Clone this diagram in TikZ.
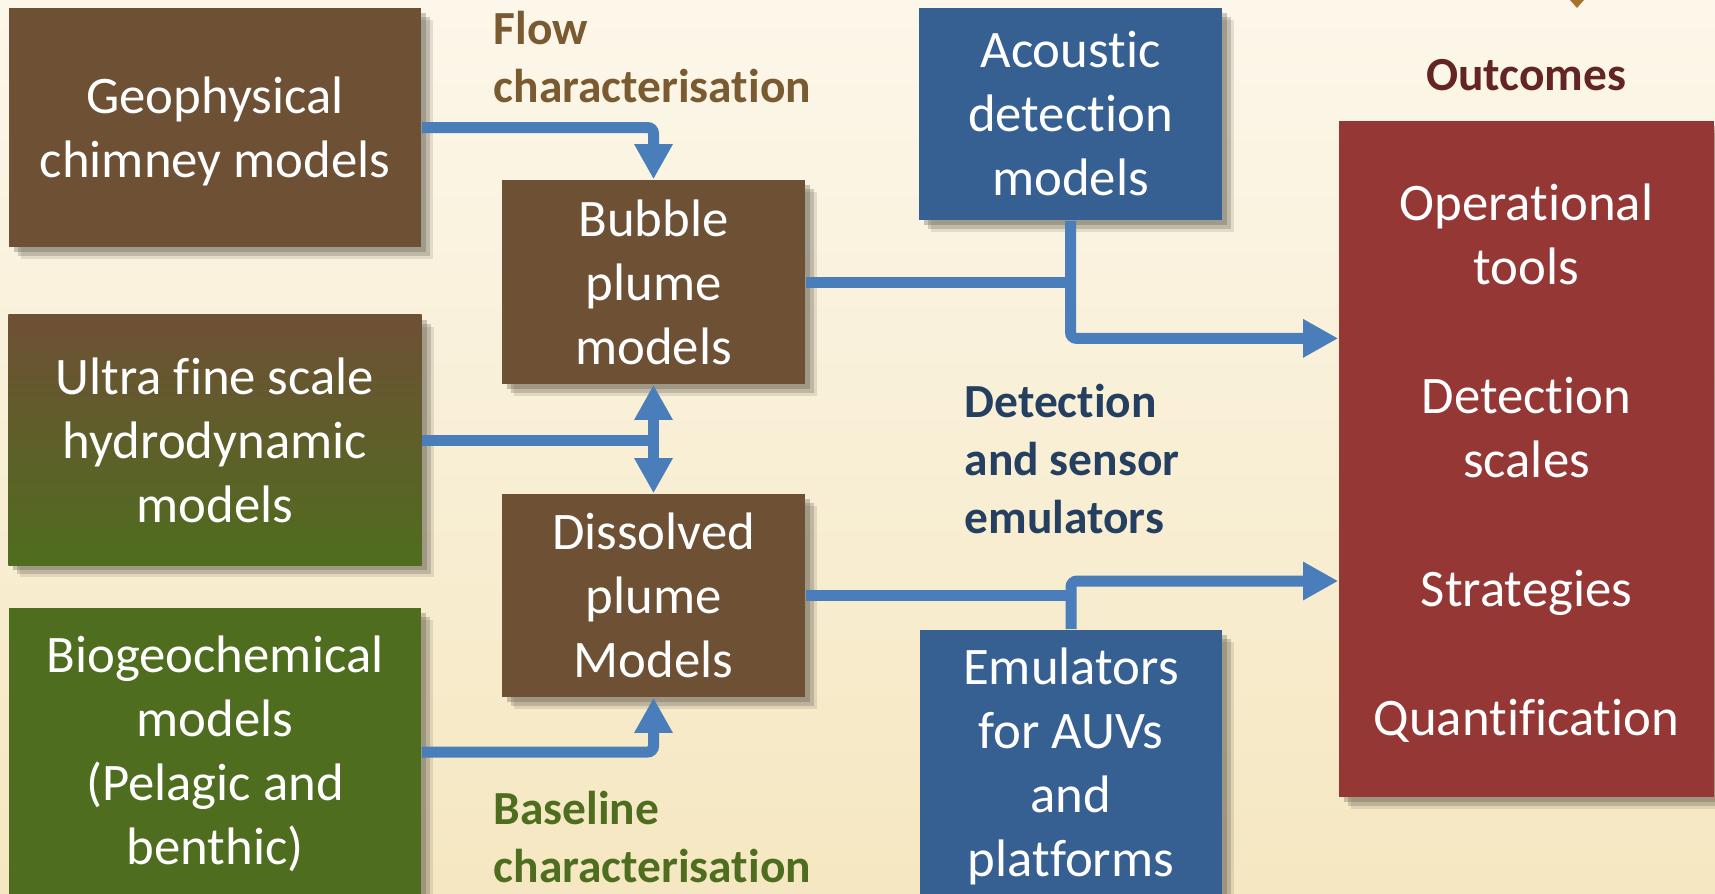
\documentclass[tikz,border=0pt]{standalone}
\usepackage{fontspec}
\setmainfont{Carlito}[Ligatures=NoCommon]
\usetikzlibrary{arrows.meta,shadows,calc}

\definecolor{bgtop}{HTML}{FCF7EA}
\definecolor{bgbot}{HTML}{F5E7C1}
\definecolor{brownbox}{HTML}{6E5035}
\definecolor{greenbox}{HTML}{4F6D1E}
\definecolor{bluebox}{HTML}{376092}
\definecolor{redbox}{HTML}{953735}
\definecolor{arrowblue}{HTML}{4A7EBB}
\definecolor{flowtext}{HTML}{7A5A31}
\definecolor{outtext}{HTML}{632523}
\definecolor{dettext}{HTML}{243F60}
\definecolor{tipbrown}{HTML}{A8722C}
\definecolor{shadowgray}{HTML}{5A5448}

\begin{document}
\begin{tikzpicture}[x=0.01cm, y=-0.01cm,
	every node/.style={inner sep=0pt},
	box/.style={text=white, align=center, font=\fontsize{15}{18.2}\selectfont,
		drop shadow={shadow xshift=0.12cm, shadow yshift=-0.12cm, opacity=0.15, fill=shadowgray},
		drop shadow={shadow xshift=0.09cm, shadow yshift=-0.09cm, opacity=0.25, fill=shadowgray},
		drop shadow={shadow xshift=0.05cm, shadow yshift=-0.05cm, opacity=0.3, fill=shadowgray}},
	flow/.style={draw=arrowblue, line width=0.11cm, rounded corners=0.06cm},
	tip/.style={-{Triangle[width=0.36cm,length=0.35cm]}},
	twotip/.style={{Triangle[width=0.36cm,length=0.35cm]}-{Triangle[width=0.36cm,length=0.35cm]}},
	note/.style={font=\bfseries\fontsize{13.5}{16.4}\selectfont, align=left, anchor=west}]
	\useasboundingbox (0,0) rectangle (1715,893);
	\clip (0,0) rectangle (1715,893);
	\shade[top color=bgtop, bottom color=bgbot] (0,0) rectangle (1715,893);
	\fill[tipbrown] (1570,0) -- (1584,0) -- (1577,8) -- cycle;
	
	% models on the left
	\node[box, fill=brownbox, minimum width=4.12cm, minimum height=2.39cm] (geo) at (215, 127.5) {\rule{0pt}{12.9pt}Geophysical\\chimney models};
	\node[box, top color=brownbox, bottom color=greenbox, minimum width=4.13cm, minimum height=2.50cm] (ultra) at (215, 440) {Ultra fine scale\\hydrodynamic\\models};
	\node[box, fill=greenbox, minimum width=4.12cm, minimum height=2.88cm] (bio) at (215, 752) {\rule{0pt}{11.5pt}Biogeochemical\\models\\(Pelagic and\\benthic)};
	
	% plume models
	\node[box, fill=brownbox, minimum width=3.03cm, minimum height=2.04cm] (bubble) at (653.5, 282) {Bubble\\plume\\models};
	\node[box, fill=brownbox, minimum width=3.03cm, minimum height=2.03cm] (dissolved) at (653.5, 595.5) {Dissolved\\plume\\Models};
	
	% emulators
	\node[box, fill=bluebox, minimum width=3.03cm, minimum height=2.12cm] (acoustic) at (1070.5, 114) {Acoustic\\detection\\models};
	\node[box, fill=bluebox, minimum width=3.02cm, minimum height=2.66cm] (emul) at (1071, 763) {\rule{0pt}{12.1pt}Emulators\\for AUVs\\and\\platforms};
	
	% outcomes
	\node[box, fill=redbox, minimum width=3.75cm, minimum height=6.76cm] (outc) at (1526.5, 459) {\rule{0pt}{13pt}Operational\\tools\\[0.65cm]Detection\\scales\\[0.65cm]Strategies\\[0.65cm]Quantification};
	
	\node[note, text=flowtext] (flowlbl) at (493, 57) {Flow\\characterisation};
	\node[note, text=greenbox] (baselbl) at (493, 837) {Baseline\\characterisation};
	\node[note, text=dettext] (detlbl) at (964, 459) {Detection\\and sensor\\emulators};
	\node[note, text=outtext, align=center, anchor=center] (outlbl) at (1526, 75) {Outcomes};
	
	\draw[flow, tip] (geo.east) -| (bubble.north);
	\draw[flow] (ultra.east) -- (ultra.east -| bubble.south);
	\draw[flow, twotip] (bubble.south) -- (dissolved.north);
	\draw[flow, tip] (bio.east) -| (dissolved.south);
	\draw[flow] (bubble.east) -- (bubble.east -| acoustic.south);
	\draw[flow, tip] (acoustic.south) |- ($(outc.north west)!0.322!(outc.south west)$);
	\draw[flow] (dissolved.east) -- (dissolved.east -| emul.north);
	\draw[flow, tip] (emul.north) |- ($(outc.north west)!0.68!(outc.south west)$);
\end{tikzpicture}
\end{document}
